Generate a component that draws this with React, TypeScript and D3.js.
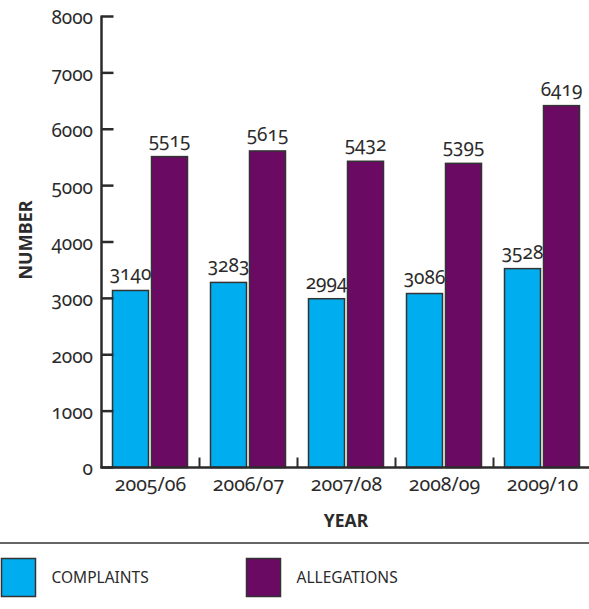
import React from "react";
import * as d3 from "d3";

const categories = ["2005/06", "2006/07", "2007/08", "2008/09", "2009/10"];
const complaints = [3140, 3283, 2994, 3086, 3528];
const allegations = [5515, 5615, 5432, 5395, 6419];
const yTicks = [0, 1000, 2000, 3000, 4000, 5000, 6000, 7000, 8000];
const seriesNames = ["COMPLAINTS", "ALLEGATIONS"];
const seriesColors = ["#00AEEF", "#6A0A63"];

const W = 589;
const H = 609;
const FONT = "'Noto Sans', 'Open Sans', sans-serif";
const INK = "#2b2b2b";

export default function App() {
  const x = d3.scaleBand<string>().domain(categories).range([101.5, 591.5]).padding(0);
  const sub = d3
    .scaleBand<string>()
    .domain(seriesNames)
    .range([11, 86])
    .paddingInner(0.077)
    .paddingOuter(0);
  const y = d3.scaleLinear().domain([0, 8000]).range([467.5, 16.5]);
  const series = [complaints, allegations];
  const x0 = x.range()[0];
  const numStyle: React.CSSProperties = { fontFeatureSettings: "'onum' 1", fontVariantNumeric: "oldstyle-nums" };

  return (
    <svg
      width={W}
      height={H}
      style={{ position: "absolute", left: 0, top: 0, background: "#fff" }}
      fontFamily={FONT}
    >
      {/* bars */}
      {categories.map((c, i) => (
        <g key={c} transform={`translate(${x(c)},0)`}>
          {series.map((vals, s) => {
            const bx = sub(seriesNames[s])!;
            const bw = sub.bandwidth();
            return (
              <g key={s}>
                <rect
                  x={bx}
                  y={y(vals[i])}
                  width={bw}
                  height={y(0) - y(vals[i])}
                  fill={seriesColors[s]}
                  stroke="#333"
                  strokeWidth={1.5}
                />
                <text
                  x={bx + bw / 2}
                  y={y(vals[i]) - 10}
                  textAnchor="middle"
                  fontSize={19}
                  fill={INK}
                  style={numStyle}
                >
                  {vals[i]}
                </text>
              </g>
            );
          })}
        </g>
      ))}

      {/* y axis */}
      <line x1={x0} x2={x0} y1={y(8000) - 1} y2={y(0)} stroke={INK} strokeWidth={2.5} />
      {yTicks.map((t) => (
        <g key={t}>
          <line x1={x0} x2={x0 + 12} y1={y(t)} y2={y(t)} stroke={INK} strokeWidth={2.5} />
          <text
            x={93}
            y={y(t)}
            dy="0.42em"
            textAnchor="end"
            fontSize={19}
            fill={INK}
            style={numStyle}
          >
            {t}
          </text>
        </g>
      ))}

      {/* x axis */}
      <line x1={x0 - 1.25} x2={W} y1={y(0)} y2={y(0)} stroke={INK} strokeWidth={2.5} />
      {categories.slice(1).map((c) => (
        <line key={c} x1={x(c)!} x2={x(c)!} y1={y(0)} y2={y(0) - 10} stroke={INK} strokeWidth={2} />
      ))}
      {categories.map((c) => (
        <text
          key={c}
          x={x(c)! + x.bandwidth() / 2}
          y={491}
          textAnchor="middle"
          fontSize={19.5}
          fill={INK}
          style={numStyle}
        >
          {c}
        </text>
      ))}

      {/* axis titles */}
      <text x={346} y={527} textAnchor="middle" fontSize={17.5} fontWeight="bold" fill={INK}>
        YEAR
      </text>
      <text
        transform="translate(32,240) rotate(-90)"
        textAnchor="middle"
        fontSize={18}
        fontWeight="bold"
        fill={INK}
      >
        NUMBER
      </text>

      {/* legend */}
      <line x1={0} x2={W} y1={543} y2={543} stroke="#333" strokeWidth={1.5} />
      {seriesNames.map((n, s) => {
        const lx = s === 0 ? 1.5 : 246.5;
        return (
          <g key={n}>
            <rect x={lx} y={558.5} width={34} height={38} fill={seriesColors[s]} stroke="#333" strokeWidth={1.5} />
            <text x={lx + 50} y={578} dy="0.35em" fontSize={15.5} fill={INK}>
              {n}
            </text>
          </g>
        );
      })}
    </svg>
  );
}
